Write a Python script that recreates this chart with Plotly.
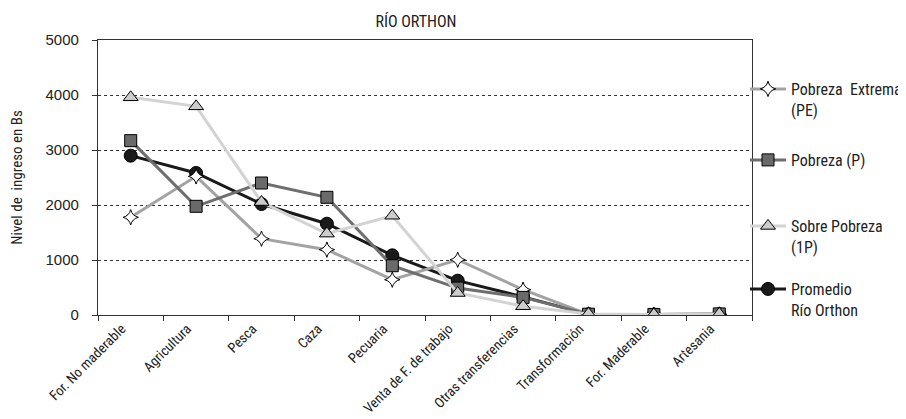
import plotly.graph_objects as go

categories = ["For. No maderable", "Agricultura", "Pesca", "Caza", "Pecuaria",
              "Venta de F. de trabajo", "Otras transferencias", "Transformación",
              "For. Maderable", "Artesania"]

pobreza_extrema = [1776, 2521, 1388, 1188, 642, 1005, 460, 10, 5, 10]
pobreza = [3170, 1976, 2400, 2140, 896, 490, 320, 15, 10, 20]
sobre_pobreza = [3958, 3794, 2054, 1480, 1805, 400, 160, 20, 10, 20]
promedio = [2897, 2582, 2018, 1660, 1085, 624, 330, 15, 8, 15]

y_ticks = [0, 1000, 2000, 3000, 4000, 5000]

FONT = "Roboto Condensed, Liberation Sans Narrow, Arial Narrow, sans-serif"
DIGITS = "Liberation Sans, Arial, sans-serif"

fig = go.Figure()

fig.add_trace(go.Scatter(
    x=categories, y=promedio, name="Promedio<br>Río Orthon", mode="lines+markers",
    line=dict(color="#1a1a1a", width=3),
    marker=dict(symbol="circle", size=13, color="#1a1a1a", line=dict(color="#000", width=1)),
    legend="legend4"))
fig.add_trace(go.Scatter(
    x=categories, y=pobreza_extrema, name="Pobreza  Extrema<br>(PE)", mode="lines+markers",
    line=dict(color="#a3a3a3", width=3),
    marker=dict(symbol="star-diamond", size=11, color="white", line=dict(color="#000", width=1)),
    legend="legend"))
fig.add_trace(go.Scatter(
    x=categories, y=pobreza, name="Pobreza (P)", mode="lines+markers",
    line=dict(color="#6e6e6e", width=3),
    marker=dict(symbol="square", size=12, color="#6a6a6a", line=dict(color="#000", width=1)),
    legend="legend2"))
fig.add_trace(go.Scatter(
    x=categories, y=sobre_pobreza, name="Sobre Pobreza<br>(1P)", mode="lines+markers",
    line=dict(color="#d3d3d3", width=3),
    marker=dict(symbol="triangle-up", size=13, color="#cccccc", line=dict(color="#000", width=1)),
    legend="legend3"))

def leg(ypix):
    # ypix: pixel y of the item's first line / symbol
    return dict(x=(737 - 90) / 654, xanchor="left",
                y=(307 - ypix + 23) / 275, yanchor="top",
                bgcolor="rgba(0,0,0,0)", valign="top", itemwidth=36,
                font=dict(family=FONT, size=16, color="#222"))

fig.update_layout(
    width=906, height=419,
    margin=dict(l=90, r=162, t=32, b=112, autoexpand=False),
    paper_bgcolor="white", plot_bgcolor="white",
    font=dict(family=FONT, size=16, color="#222"),
    title=dict(text="RÍO ORTHON", x=408 / 906, xanchor="center", y=1 - 13 / 419, yanchor="middle",
               font=dict(family=FONT, size=16, color="#222")),
    showlegend=True,
    legend=leg(87), legend2=leg(158), legend3=leg(224), legend4=leg(287),
)

fig.update_xaxes(
    type="category", showline=True, linecolor="#333", linewidth=1.3, mirror=True,
    ticks="outside", ticklen=5, tickcolor="#333", tickson="boundaries",
    tickangle=-45, showgrid=False, automargin=False, ticklabelshift=-9,
    ticklabelstandoff=-1,
    tickfont=dict(family=FONT, size=14, color="#222"),
    range=[-0.5, 9.5])

fig.update_yaxes(
    range=[0, 5000], tickvals=y_ticks, showline=True, linecolor="#333", linewidth=1.3,
    mirror=True, ticks="outside", ticklen=5, tickcolor="#333", ticklabelstandoff=10,
    showgrid=True, gridcolor="#333", griddash="dot", gridwidth=1, zeroline=False,
    automargin=False,
    tickfont=dict(family=DIGITS, size=15, color="#222"),
    title=dict(text="Nivel de  ingreso en Bs", font=dict(family=FONT, size=15, color="#222"),
               standoff=22))

fig.write_html("out.html")
